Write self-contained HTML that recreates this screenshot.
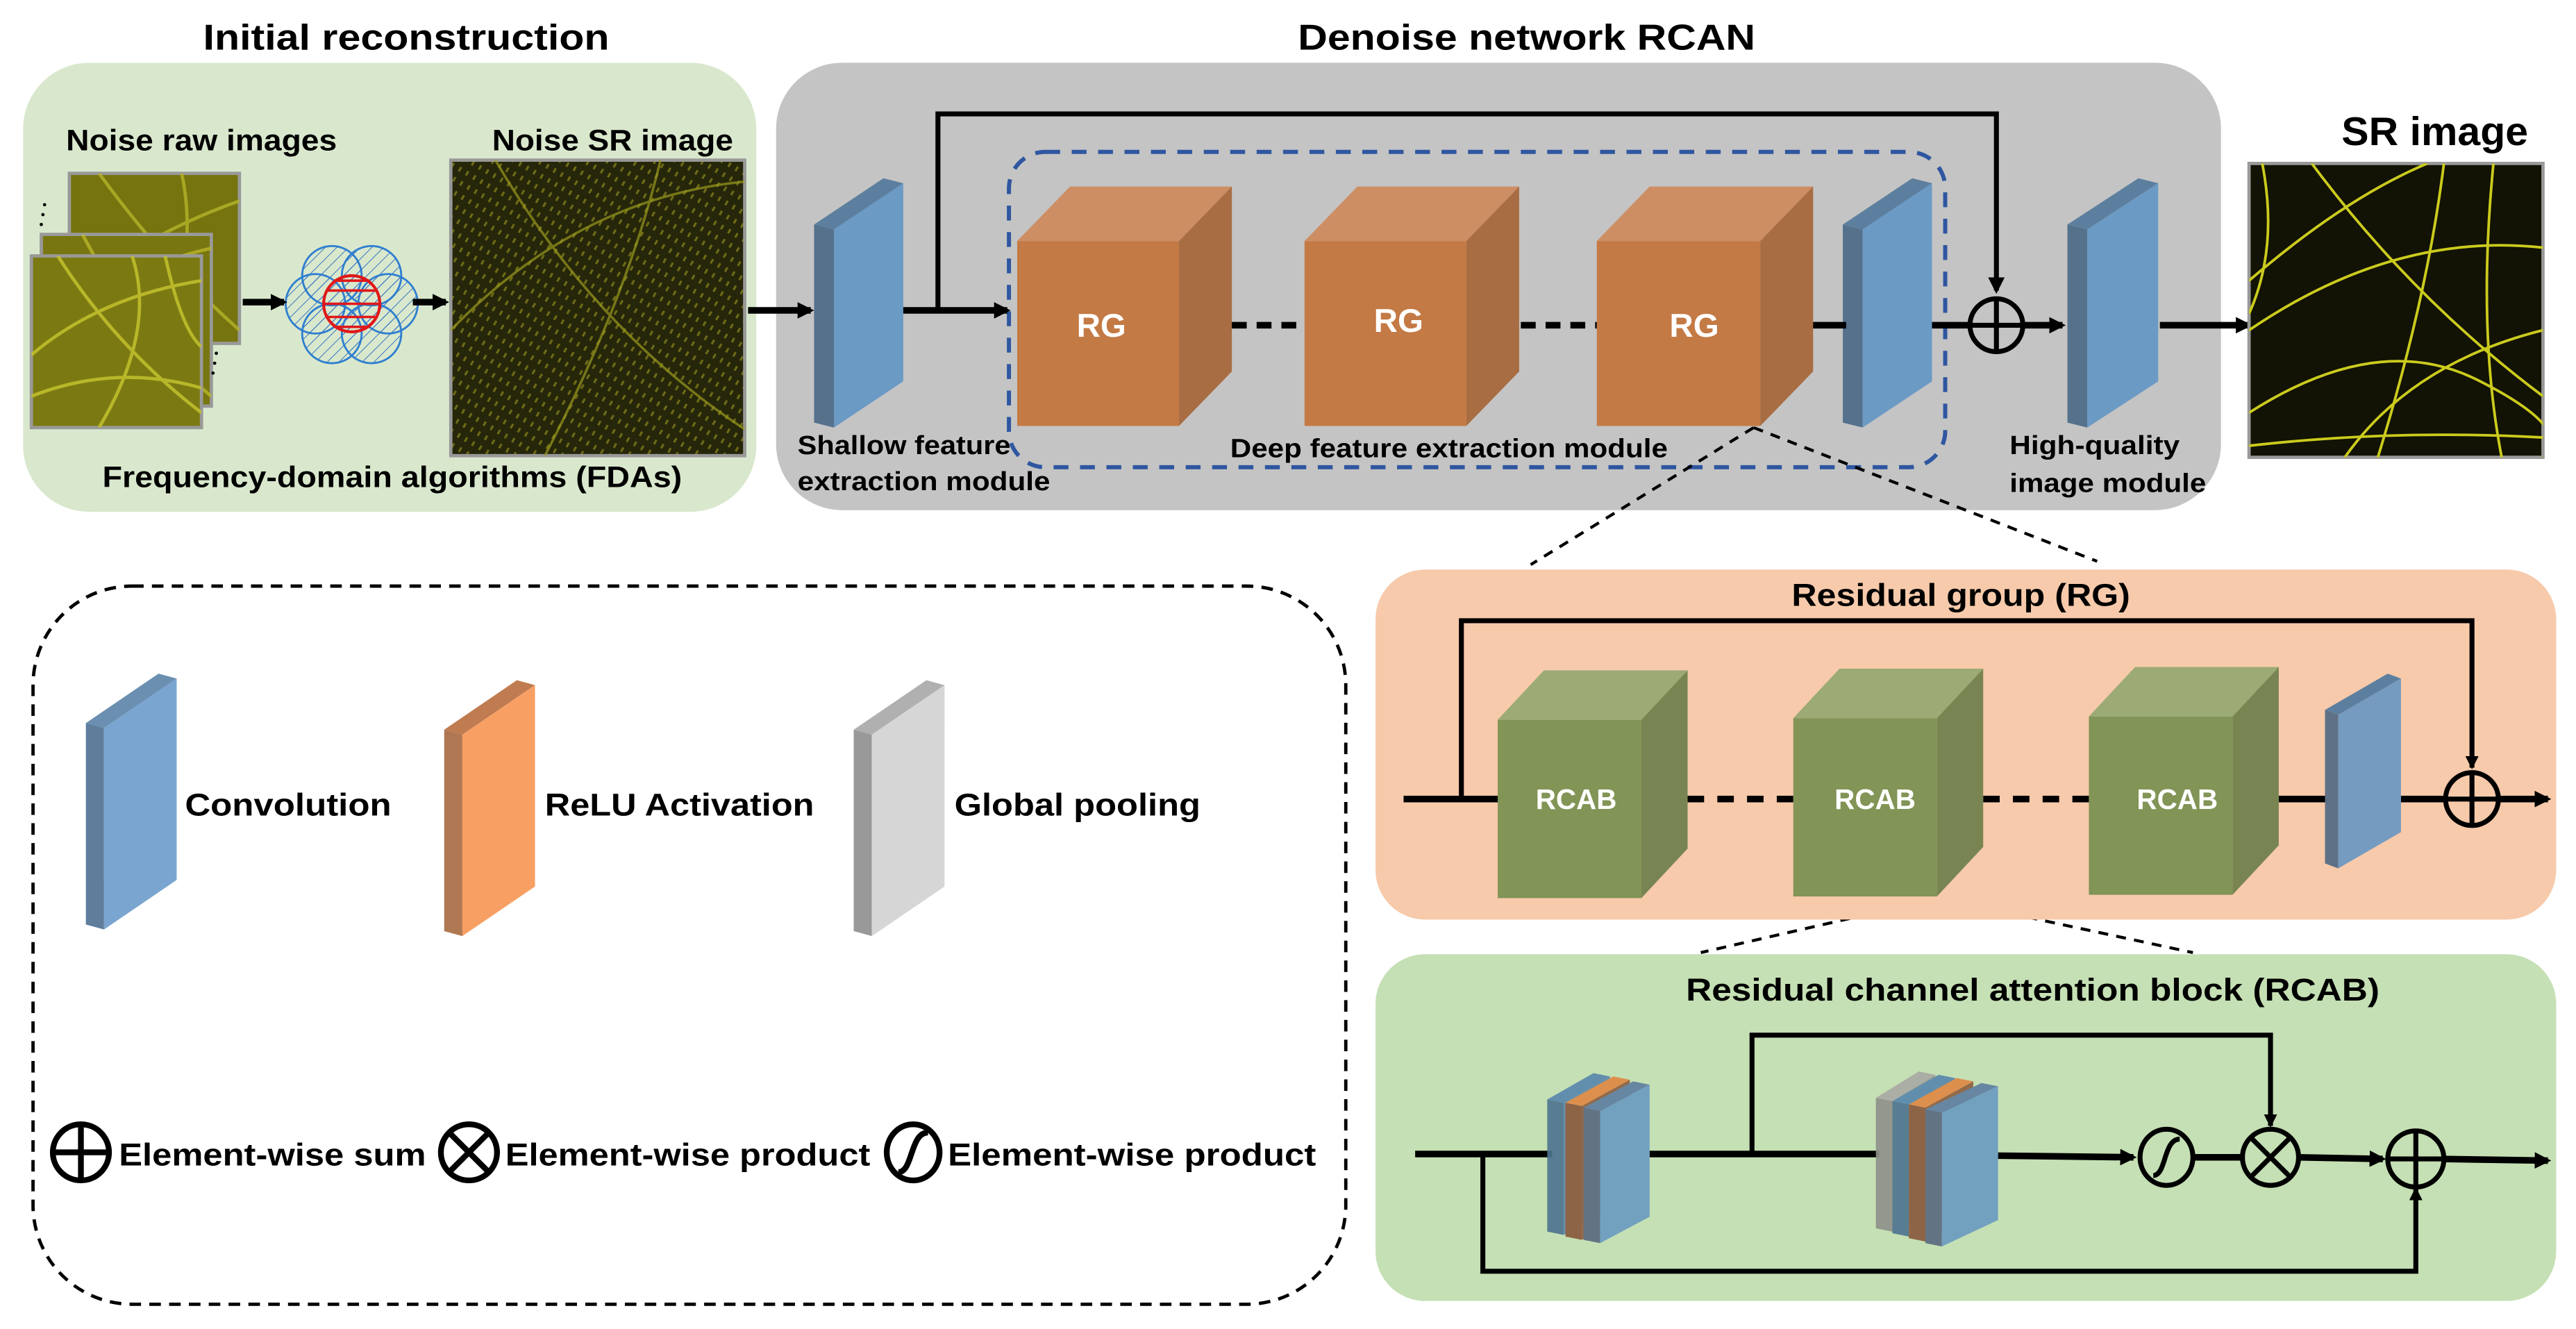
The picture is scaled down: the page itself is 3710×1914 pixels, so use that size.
<!DOCTYPE html>
<html><head><meta charset="utf-8"><style>
html,body{margin:0;padding:0;background:#fff;}
svg{display:block;}
text{font-family:"Liberation Sans",Arial,sans-serif;font-weight:bold;}
</style></head><body>
<svg width="3710" height="1914" viewBox="0 0 1560 805" preserveAspectRatio="none" xmlns="http://www.w3.org/2000/svg">
<defs>
<marker id="ah" markerWidth="10" markerHeight="10" refX="8" refY="5" orient="auto" markerUnits="userSpaceOnUse"><path d="M0,0 L10,5 L0,10 Z" fill="#000"/></marker>
<marker id="ahs" markerWidth="8" markerHeight="8" refX="7" refY="4" orient="auto" markerUnits="userSpaceOnUse"><path d="M0,0 L8,4 L0,8 Z" fill="#000"/></marker>
<pattern id="hatch" width="5" height="5" patternUnits="userSpaceOnUse" patternTransform="rotate(45)"><line x1="0" y1="0" x2="0" y2="5" stroke="#2f6fc0" stroke-width="0.8"/></pattern>
<pattern id="noise" width="7" height="5" patternUnits="userSpaceOnUse" patternTransform="rotate(-60)"><rect width="7" height="5" fill="#26260a"/><line x1="0" y1="2.5" x2="7" y2="2.5" stroke="#6e6c16" stroke-width="1.3" stroke-dasharray="3,4"/></pattern>
<clipPath id="c1"><rect x="42" y="105" width="103" height="103"/></clipPath>
<clipPath id="c2"><rect x="25" y="142" width="103" height="104"/></clipPath>
<clipPath id="c3"><rect x="19" y="155" width="103" height="104"/></clipPath>
<clipPath id="c4"><rect x="273" y="97" width="178" height="179"/></clipPath>
<clipPath id="c5"><rect x="1362" y="99" width="178" height="178"/></clipPath>
</defs>

<text x="123" y="30" font-size="22" textLength="246" lengthAdjust="spacingAndGlyphs">Initial reconstruction</text>
<text x="786" y="30" font-size="22" textLength="277" lengthAdjust="spacingAndGlyphs">Denoise network RCAN</text>
<text x="1418" y="88" font-size="24" textLength="113" lengthAdjust="spacingAndGlyphs">SR image</text>

<rect x="14" y="38" width="444" height="272" rx="40" fill="#d9e8cd"/>
<text x="40" y="91" font-size="18" textLength="164" lengthAdjust="spacingAndGlyphs">Noise raw images</text>
<text x="298" y="91" font-size="18" textLength="146" lengthAdjust="spacingAndGlyphs">Noise SR image</text>
<text x="62" y="295" font-size="18" textLength="351" lengthAdjust="spacingAndGlyphs">Frequency-domain algorithms (FDAs)</text>

<rect x="42" y="105" width="103" height="103" fill="#76740f" stroke="#999" stroke-width="2"/>
<g clip-path="url(#c1)" stroke="#b5b42a" stroke-width="2" fill="none" opacity="0.8">
<path d="M40,180 Q90,140 150,120"/><path d="M60,105 Q100,160 145,200"/><path d="M110,105 Q120,150 100,210"/>
</g>
<rect x="25" y="142" width="103" height="104" fill="#787610" stroke="#999" stroke-width="2"/>
<g clip-path="url(#c2)" stroke="#b8b72a" stroke-width="2" fill="none" opacity="0.8">
<path d="M25,200 Q80,160 130,150"/><path d="M50,142 Q80,200 128,240"/>
</g>
<rect x="19" y="155" width="103" height="104" fill="#7b7a12" stroke="#999" stroke-width="2"/>
<g clip-path="url(#c3)" stroke="#c4c22e" stroke-width="2" fill="none" opacity="0.85">
<path d="M19,215 Q60,180 122,170"/><path d="M35,155 Q70,210 122,250"/><path d="M80,155 Q95,200 60,259"/><path d="M19,240 Q70,220 122,235"/><path d="M100,155 Q110,200 122,210"/>
</g>
<g fill="#000"><circle cx="27" cy="124" r="1"/><circle cx="26" cy="130" r="1"/><circle cx="25" cy="136" r="1"/>
<circle cx="131" cy="214" r="1"/><circle cx="130" cy="220" r="1"/><circle cx="129" cy="226" r="1"/></g>

<g stroke="#2f7fd0" stroke-width="1.2" fill="url(#hatch)">
<ellipse cx="201" cy="167" rx="18" ry="18"/><ellipse cx="225" cy="167" rx="18" ry="18"/>
<ellipse cx="191" cy="184" rx="18" ry="18"/><ellipse cx="235" cy="184" rx="18" ry="18"/>
<ellipse cx="201" cy="202" rx="18" ry="18"/><ellipse cx="225" cy="202" rx="18" ry="18"/>
</g>
<ellipse cx="213" cy="184" rx="17" ry="17" fill="none" stroke="#e01818" stroke-width="1.8"/>
<g stroke="#e01818" stroke-width="1.5"><line x1="198" y1="176" x2="228" y2="176"/><line x1="196" y1="184" x2="230" y2="184"/><line x1="198" y1="192" x2="228" y2="192"/><line x1="202" y1="170" x2="224" y2="170"/><line x1="202" y1="198" x2="224" y2="198"/></g>

<rect x="273" y="97" width="178" height="179" fill="url(#noise)" stroke="#999" stroke-width="2"/>
<g clip-path="url(#c4)" stroke="#9a9a1e" stroke-width="1.5" fill="none" opacity="0.7">
<path d="M273,200 Q350,120 451,110"/><path d="M300,97 Q360,200 451,260"/><path d="M400,97 Q380,180 330,276"/>
</g>

<g stroke="#000" stroke-width="4" fill="none">
<line x1="147" y1="183" x2="172" y2="183" marker-end="url(#ah)"/>
<line x1="250" y1="183" x2="270" y2="183" marker-end="url(#ah)"/>
</g>

<rect x="470" y="38" width="875" height="271" rx="40" fill="#c4c4c4"/>
<rect x="611" y="92" width="567" height="191" rx="22" fill="none" stroke="#2f56a0" stroke-width="2.5" stroke-dasharray="9,7"/>
<line x1="453" y1="188" x2="491" y2="188" stroke="#000" stroke-width="4" marker-end="url(#ah)"/>

<polygon points="493,136 535,108 547,111 505,139" fill="#5d7f9f"/>
<polygon points="493,136 505,139 505,259 493,256" fill="#55718c"/>
<polygon points="505,139 547,111 547,231 505,259" fill="#6b9ac4"/>

<g>
<rect x="616" y="146" width="98" height="112" fill="#c47a45"/><polygon points="616,146 648,113 746,113 714,146" fill="#cd8e64"/><polygon points="714,146 746,113 746,225 714,258" fill="#a86d42"/>
<rect x="790" y="146" width="98" height="112" fill="#c47a45"/><polygon points="790,146 822,113 920,113 888,146" fill="#cd8e64"/><polygon points="888,146 920,113 920,225 888,258" fill="#a86d42"/>
<rect x="967" y="146" width="99" height="112" fill="#c47a45"/><polygon points="967,146 999,113 1098,113 1066,146" fill="#cd8e64"/><polygon points="1066,146 1098,113 1098,225 1066,258" fill="#a86d42"/>
</g>
<g fill="#fff" font-size="20"><text x="652" y="204">RG</text><text x="832" y="201">RG</text><text x="1011" y="204">RG</text></g>

<polygon points="1116,136 1158,108 1170,111 1128,139" fill="#5d7f9f"/>
<polygon points="1116,136 1128,139 1128,259 1116,256" fill="#55718c"/>
<polygon points="1128,139 1170,111 1170,231 1128,259" fill="#6b9ac4"/>
<polygon points="1252,136 1295,108 1307,111 1264,139" fill="#5d7f9f"/>
<polygon points="1252,136 1264,139 1264,259 1252,256" fill="#55718c"/>
<polygon points="1264,139 1307,111 1307,231 1264,259" fill="#6b9ac4"/>

<g stroke="#000" stroke-width="4" fill="none">
<line x1="547" y1="188" x2="610" y2="188" marker-end="url(#ah)"/>
<line x1="746" y1="197" x2="790" y2="197" stroke-dasharray="9,6"/>
<line x1="921" y1="197" x2="967" y2="197" stroke-dasharray="9,6"/>
<line x1="1098" y1="197" x2="1118" y2="197"/>
<line x1="1170" y1="197" x2="1192" y2="197"/>
<line x1="1226" y1="197" x2="1249" y2="197" marker-end="url(#ah)"/>
<line x1="1308" y1="197" x2="1362" y2="197" marker-end="url(#ah)"/>
</g>
<polyline points="568,188 568,69 1209,69 1209,176" fill="none" stroke="#000" stroke-width="3" marker-end="url(#ah)"/>
<g stroke="#000" stroke-width="3" fill="none"><circle cx="1209" cy="197" r="16"/><line x1="1193" y1="197" x2="1225" y2="197"/><line x1="1209" y1="181" x2="1209" y2="213"/></g>

<g font-size="16">
<text x="483" y="275" textLength="129" lengthAdjust="spacingAndGlyphs">Shallow feature</text>
<text x="483" y="297" textLength="153" lengthAdjust="spacingAndGlyphs">extraction module</text>
<text x="745" y="277" textLength="265" lengthAdjust="spacingAndGlyphs">Deep feature extraction module</text>
<text x="1217" y="275" textLength="103" lengthAdjust="spacingAndGlyphs">High-quality</text>
<text x="1217" y="298" textLength="119" lengthAdjust="spacingAndGlyphs">image module</text>
</g>

<rect x="1362" y="99" width="178" height="178" fill="#121205" stroke="#999" stroke-width="2"/>
<g clip-path="url(#c5)" stroke="#cbcb1e" stroke-width="1.6" fill="none">
<path d="M1362,170 Q1420,120 1470,99"/><path d="M1362,200 Q1450,140 1540,150"/><path d="M1400,99 Q1460,180 1540,240"/>
<path d="M1362,250 Q1440,200 1500,230 T1540,277"/><path d="M1480,99 Q1470,180 1440,277"/><path d="M1510,99 Q1500,200 1515,277"/>
<path d="M1370,99 Q1380,150 1362,190"/><path d="M1362,270 Q1450,260 1540,265"/><path d="M1420,277 Q1460,220 1540,200"/>
</g>

<g stroke="#000" stroke-width="1.8" stroke-dasharray="6,5" fill="none">
<line x1="1062" y1="259" x2="927" y2="342"/><line x1="1062" y1="259" x2="1270" y2="340"/>
<line x1="1174" y1="544" x2="1030" y2="577"/><line x1="1174" y1="544" x2="1328" y2="577"/>
</g>

<rect x="833" y="345" width="715" height="212" rx="30" fill="#f7caab"/>
<text x="1085" y="367" font-size="19" textLength="205" lengthAdjust="spacingAndGlyphs">Residual group (RG)</text>
<polyline points="885,484 885,376 1497,376 1497,465" fill="none" stroke="#000" stroke-width="3" marker-end="url(#ahs)"/>
<g stroke="#000" stroke-width="4" fill="none">
<line x1="850" y1="484" x2="908" y2="484"/>
<line x1="1022" y1="484" x2="1086" y2="484" stroke-dasharray="10,8"/>
<line x1="1201" y1="484" x2="1265" y2="484" stroke-dasharray="10,8"/>
<line x1="1380" y1="484" x2="1412" y2="484"/>
<line x1="1454" y1="484" x2="1480" y2="484"/>
<line x1="1513" y1="484" x2="1543" y2="484" marker-end="url(#ah)"/>
</g>
<g>
<rect x="907" y="436" width="87" height="108" fill="#829456"/><polygon points="907,436 935,406 1022,406 994,436" fill="#9caa76"/><polygon points="994,436 1022,406 1022,514 994,544" fill="#788552"/>
<rect x="1086" y="435" width="87" height="108" fill="#829456"/><polygon points="1086,435 1114,405 1201,405 1173,435" fill="#9caa76"/><polygon points="1173,435 1201,405 1201,513 1173,543" fill="#788552"/>
<rect x="1265" y="434" width="87" height="108" fill="#829456"/><polygon points="1265,434 1293,404 1380,404 1352,434" fill="#9caa76"/><polygon points="1352,434 1380,404 1380,512 1352,542" fill="#788552"/>
</g>
<g fill="#fff" font-size="17"><text x="930" y="490">RCAB</text><text x="1111" y="490">RCAB</text><text x="1294" y="490">RCAB</text></g>
<polygon points="1408,430 1446,408 1454,411 1416,433" fill="#5d7f9f"/>
<polygon points="1408,430 1416,433 1416,526 1408,523" fill="#5f7186"/>
<polygon points="1416,433 1454,411 1454,504 1416,526" fill="#769bc0"/>
<g stroke="#000" stroke-width="3" fill="none"><circle cx="1497" cy="484" r="16"/><line x1="1481" y1="484" x2="1513" y2="484"/><line x1="1497" y1="468" x2="1497" y2="500"/></g>

<rect x="833" y="578" width="715" height="210" rx="30" fill="#c5e0b4"/>
<text x="1021" y="606" font-size="19" textLength="420" lengthAdjust="spacingAndGlyphs">Residual channel  attention block (RCAB)</text>
<g stroke="#000" stroke-width="4" fill="none">
<line x1="857" y1="699" x2="940" y2="699"/>
<line x1="999" y1="699" x2="1138" y2="699"/>
<line x1="1210" y1="700" x2="1292" y2="701" marker-end="url(#ah)"/>
<line x1="1329" y1="701" x2="1358" y2="701"/>
<line x1="1392" y1="701" x2="1443" y2="702" marker-end="url(#ah)"/>
<line x1="1479" y1="702" x2="1543" y2="703" marker-end="url(#ah)"/>
</g>
<polyline points="1061,699 1061,627 1375,627 1375,682" fill="none" stroke="#000" stroke-width="3" marker-end="url(#ahs)"/>
<polyline points="898,699 898,770 1463,770 1463,720" fill="none" stroke="#000" stroke-width="3" marker-end="url(#ahs)"/>

<g opacity="0.92">
<polygon points="937,666 965,650 975,652 947,668" fill="#5a88ad"/><polygon points="937,666 947,668 947,748 937,746" fill="#4f7590"/><polygon points="947,668 975,652 975,732 947,748" fill="#5a88ad"/>
<polygon points="948,668 977,652 987,654 958,670" fill="#e08a45"/><polygon points="948,668 958,670 958,751 948,749" fill="#8a5a3e"/><polygon points="958,670 987,654 987,735 958,751" fill="#8e6040"/>
<polygon points="959,671 989,655 999,657 969,673" fill="#5f7fa0"/><polygon points="959,671 969,673 969,753 959,751" fill="#5a6a80"/><polygon points="969,673 999,657 999,737 969,753" fill="#6c9cc2"/>
</g>
<g opacity="0.92">
<polygon points="1136,665 1162,649 1172,651 1146,667" fill="#a9aaa4"/><polygon points="1136,665 1146,667 1146,746 1136,744" fill="#8f918a"/><polygon points="1146,667 1172,651 1172,730 1146,746" fill="#9a9c95"/>
<polygon points="1146,667 1174,651 1184,653 1156,669" fill="#5a88ad"/><polygon points="1146,667 1156,669 1156,749 1146,747" fill="#4f7590"/><polygon points="1156,669 1184,653 1184,733 1156,749" fill="#5a7e9c"/>
<polygon points="1156,669 1185,653 1195,655 1166,671" fill="#e08a45"/><polygon points="1156,669 1166,671 1166,752 1156,750" fill="#8a5a3e"/><polygon points="1166,671 1195,655 1195,736 1166,752" fill="#8e6040"/>
<polygon points="1166,672 1200,656 1210,658 1176,674" fill="#5f7fa0"/><polygon points="1166,672 1176,674 1176,755 1166,753" fill="#5a6a80"/><polygon points="1176,674 1210,658 1210,739 1176,755" fill="#6c9cc2"/>
</g>

<g stroke="#000" stroke-width="3" fill="none">
<ellipse cx="1312" cy="701" rx="16" ry="17"/><path d="M1304,712 C1312,712 1310,690 1320,690"/>
<circle cx="1375" cy="701" r="17"/><line x1="1363" y1="689" x2="1387" y2="713"/><line x1="1387" y1="689" x2="1363" y2="713"/>
<circle cx="1463" cy="702" r="17"/><line x1="1446" y1="702" x2="1480" y2="702"/><line x1="1463" y1="685" x2="1463" y2="719"/>
</g>

<rect x="20" y="355" width="795" height="435" rx="60" fill="none" stroke="#000" stroke-width="2" stroke-dasharray="7,5"/>
<polygon points="52,438 96,408 107,411 63,441" fill="#6a8fb0"/><polygon points="52,438 63,441 63,563 52,560" fill="#5e7e9c"/><polygon points="63,441 107,411 107,533 63,563" fill="#7aa5d0"/>
<polygon points="269,442 313,412 324,415 280,445" fill="#c07c50"/><polygon points="269,442 280,445 280,567 269,564" fill="#b07852"/><polygon points="280,445 324,415 324,537 280,567" fill="#f8a064"/>
<polygon points="517,442 561,412 572,415 528,445" fill="#b0b0b0"/><polygon points="517,442 528,445 528,567 517,564" fill="#999"/><polygon points="528,445 572,415 572,537 528,567" fill="#d6d6d6"/>
<g font-size="19">
<text x="112" y="494" textLength="125" lengthAdjust="spacingAndGlyphs">Convolution</text>
<text x="330" y="494" textLength="163" lengthAdjust="spacingAndGlyphs">ReLU Activation</text>
<text x="578" y="494" textLength="149" lengthAdjust="spacingAndGlyphs">Global pooling</text>
<text x="72" y="706" textLength="186" lengthAdjust="spacingAndGlyphs">Element-wise sum</text>
<text x="306" y="706" textLength="221" lengthAdjust="spacingAndGlyphs">Element-wise product</text>
<text x="574" y="706" textLength="223" lengthAdjust="spacingAndGlyphs">Element-wise product</text>
</g>
<g stroke="#000" stroke-width="3.5" fill="none">
<circle cx="49" cy="698" r="17"/><line x1="32" y1="698" x2="66" y2="698"/><line x1="49" y1="681" x2="49" y2="715"/>
<circle cx="284" cy="698" r="17"/><line x1="272" y1="686" x2="296" y2="710"/><line x1="296" y1="686" x2="272" y2="710"/>
<ellipse cx="553" cy="698" rx="16" ry="17"/><path d="M544,710 C553,710 551,686 562,686"/>
</g>
</svg>
</body></html>
